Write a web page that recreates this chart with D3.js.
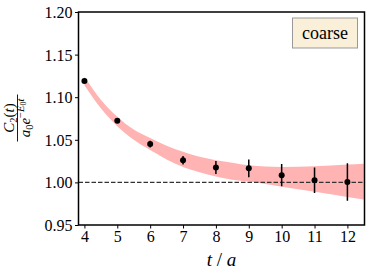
<!DOCTYPE html>
<html>
<head>
<meta charset="utf-8">
<script src="https://cdn.jsdelivr.net/npm/d3@7"></script>
<style>
  body { margin: 0; background: #fff; }
</style>
</head>
<body>
<svg id="chart"></svg>
<script>
// chart size
const W = 374, H = 276;
const SERIF = "Liberation Serif";

// data points
const tVals = [4, 5, 6, 7, 8, 9, 10, 11, 12];
const ratio = [1.119, 1.0725, 1.045, 1.026, 1.0175, 1.0165, 1.0085, 1.0025, 1.0005];
const ratioErr = [0.0015, 0.0025, 0.004, 0.005, 0.0075, 0.0105, 0.013, 0.015, 0.022];

// fit band (lower / upper edges)
const bandT = [4, 4.5, 5, 5.5, 6, 6.5, 7, 7.5, 8, 8.5, 9, 10, 11, 12, 12.5];
const bandLo = [1.114, 1.087, 1.066, 1.050, 1.038, 1.027, 1.018, 1.012, 1.007, 1.003, 1.001, 0.995, 0.989, 0.983, 0.980];
const bandHi = [1.124, 1.097, 1.077, 1.062, 1.052, 1.043, 1.036, 1.030, 1.026, 1.023, 1.020, 1.018, 1.019, 1.021, 1.022];

const xTicks = [4, 5, 6, 7, 8, 9, 10, 11, 12];
const yTicks = [0.95, 1.00, 1.05, 1.10, 1.15, 1.20];

const svg = d3.select("#chart").attr("width", W).attr("height", H);

const x = d3.scaleLinear().domain([3.82, 12.52]).range([78.5, 364.5]);
const y = d3.scaleLinear().domain([0.95, 1.20]).range([225, 12]);

svg.append("clipPath").attr("id", "clip")
  .append("rect").attr("x", 78.5).attr("y", 12).attr("width", 286).attr("height", 213);

const plot = svg.append("g").attr("clip-path", "url(#clip)");

// band
const band = bandT.map((t, i) => ({ t, lo: bandLo[i], hi: bandHi[i] }));
plot.append("path")
  .datum(band)
  .attr("fill", "#ffb3b3")
  .attr("d", d3.area()
    .x(d => x(d.t))
    .y0(d => y(d.lo))
    .y1(d => y(d.hi))
    .curve(d3.curveMonotoneX));

// reference line at 1
plot.append("line")
  .attr("x1", 78.5).attr("x2", 364.5)
  .attr("y1", y(1)).attr("y2", y(1))
  .attr("stroke", "#333")
  .attr("stroke-width", 1.3)
  .attr("stroke-dasharray", "4.5,2");

// error bars + points
const pts = tVals.map((t, i) => ({ t, v: ratio[i], e: ratioErr[i] }));
plot.append("g").selectAll("line")
  .data(pts)
  .join("line")
    .attr("x1", d => x(d.t)).attr("x2", d => x(d.t))
    .attr("y1", d => y(d.v - d.e)).attr("y2", d => y(d.v + d.e))
    .attr("stroke", "#000")
    .attr("stroke-width", 1.5);

plot.append("g").selectAll("circle")
  .data(pts)
  .join("circle")
    .attr("cx", d => x(d.t))
    .attr("cy", d => y(d.v))
    .attr("r", 3)
    .attr("fill", "#000");

// axes
const xAxis = svg.append("g")
  .attr("transform", "translate(0,225)")
  .call(d3.axisBottom(x).tickValues(xTicks).tickSize(3.5).tickPadding(2.5).tickFormat(d3.format("d")));
const yAxis = svg.append("g")
  .attr("transform", "translate(78.5,0)")
  .call(d3.axisLeft(y).tickValues(yTicks).tickSize(3.5).tickPadding(2.5).tickFormat(d3.format(".2f")));

[xAxis, yAxis].forEach(a => {
  a.attr("font-family", SERIF).attr("font-size", 16);
  a.select(".domain").remove();
  a.selectAll(".tick line").attr("stroke", "#000").attr("stroke-width", 1);
  a.selectAll(".tick text").attr("fill", "#000");
});
yAxis.selectAll(".tick text").attr("dy", "0.34em");

// frame
svg.append("rect")
  .attr("x", 78.5).attr("y", 12)
  .attr("width", 286).attr("height", 213)
  .attr("fill", "none")
  .attr("stroke", "#000")
  .attr("stroke-width", 1.5);

// legend box
svg.append("rect")
  .attr("x", 292.5).attr("y", 18)
  .attr("width", 65).attr("height", 30)
  .attr("fill", "#faefd9")
  .attr("stroke", "#999")
  .attr("stroke-width", 1);
svg.append("text")
  .attr("x", 325).attr("y", 38.5)
  .attr("text-anchor", "middle")
  .attr("font-family", SERIF)
  .attr("font-size", 18)
  .text("coarse");

// x label
const xl = svg.append("text")
  .attr("x", 221.5).attr("y", 266)
  .attr("text-anchor", "middle")
  .attr("font-family", SERIF)
  .attr("font-size", 19);
xl.append("tspan").attr("font-style", "italic").text("t");
xl.append("tspan").text(" / ");
xl.append("tspan").attr("font-style", "italic").text("a");

// y label as a fraction
const yl = svg.append("g")
  .attr("transform", "translate(17.5,118) rotate(-90)")
  .attr("font-family", SERIF);
yl.append("line")
  .attr("x1", -23.5).attr("x2", 23.5)
  .attr("y1", 0).attr("y2", 0)
  .attr("stroke", "#000").attr("stroke-width", 0.9);

const num = yl.append("text").attr("x", 0).attr("y", -4).attr("text-anchor", "middle").attr("font-size", 15);
num.append("tspan").attr("font-style", "italic").text("C");
num.append("tspan").attr("font-size", 10.5).attr("dy", 3).text("2");
num.append("tspan").attr("dy", -3).text("(");
num.append("tspan").attr("font-style", "italic").text("t");
num.append("tspan").text(")");

const den = yl.append("text").attr("x", 0).attr("y", 12.5).attr("text-anchor", "middle").attr("font-size", 15);
den.append("tspan").attr("font-style", "italic").text("a");
den.append("tspan").attr("font-size", 10.5).attr("dy", 3).text("0");
den.append("tspan").attr("font-style", "italic").attr("dy", -3).text("e");
den.append("tspan").attr("font-size", 10.5).attr("dy", -6).text("−");
den.append("tspan").attr("font-size", 10.5).attr("font-style", "italic").text("E");
den.append("tspan").attr("font-size", 8).attr("dy", 2).text("0");
den.append("tspan").attr("font-size", 10.5).attr("font-style", "italic").attr("dy", -2).text("t");
</script>
</body>
</html>
